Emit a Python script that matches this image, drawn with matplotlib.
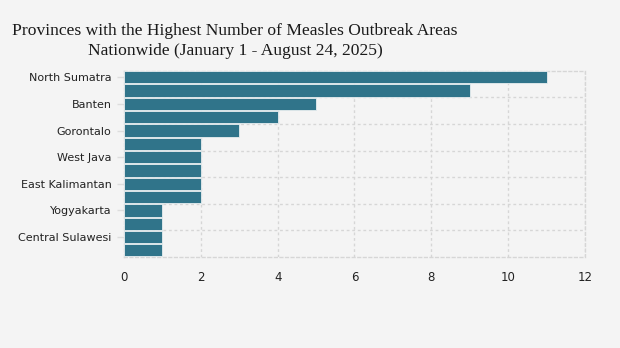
import matplotlib.pyplot as plt
from matplotlib.ticker import MultipleLocator, FixedLocator

# data (top to bottom); only every other label is shown
provinces = ["North Sumatra", "East Java", "Banten", "Central Java", "Gorontalo",
             "South Sulawesi", "West Java", "Jambi", "East Kalimantan", "Aceh",
             "Yogyakarta", "Riau", "Central Sulawesi", "Lampung"]
outbreaks = [11, 9, 5, 4, 3, 2, 2, 2, 2, 2, 1, 1, 1, 1]

bg = "#f4f4f4"
bar_color = "#30748a"
grid_color = "#d6d6d6"

fig = plt.figure(figsize=(6.2, 3.48), dpi=100, facecolor=bg)
ax = fig.add_axes([0.2, 0.2615, 0.7435, 0.5355])
ax.set_facecolor(bg)

pos = list(range(len(provinces)))
ax.barh(pos, outbreaks, height=0.92, color=bar_color, edgecolor="#e8eef0",
        linewidth=0.6, zorder=3)

ax.set_xlim(0, 12)
ax.set_ylim(len(provinces) - 0.5, -0.5)
ax.xaxis.set_major_locator(MultipleLocator(2))

shown = pos[::2]
ax.set_yticks(shown)
ax.set_yticklabels([provinces[i] for i in shown], fontsize=8, color="#222222")
ax.yaxis.set_minor_locator(FixedLocator([i + 1.5 for i in shown[:-1]]))

ax.grid(axis="x", which="major", color=grid_color, linestyle=(0, (2, 2)), linewidth=1, zorder=0)
ax.grid(axis="y", which="minor", color=grid_color, linestyle=(0, (2, 2)), linewidth=1, zorder=0)
ax.tick_params(axis="y", which="major", length=5, width=1, color="#dddddd", pad=4)
ax.tick_params(axis="y", which="minor", length=0)
ax.tick_params(axis="x", length=0, labelsize=8.5, labelcolor="#222222", pad=10)

for s in ax.spines.values():
    s.set_color(grid_color)
    s.set_linestyle((0, (2, 2)))
    s.set_linewidth(1)

fig.text(235 / 620, 1 - 41 / 348,
         "Provinces with the Highest Number of Measles Outbreak Areas\nNationwide (January 1 - August 24, 2025)",
         ha="center", va="center", fontsize=12.6, family="Liberation Serif",
         color="#1a1a1a", linespacing=1.3)

fig.savefig("out.png", dpi=100, facecolor=bg)
